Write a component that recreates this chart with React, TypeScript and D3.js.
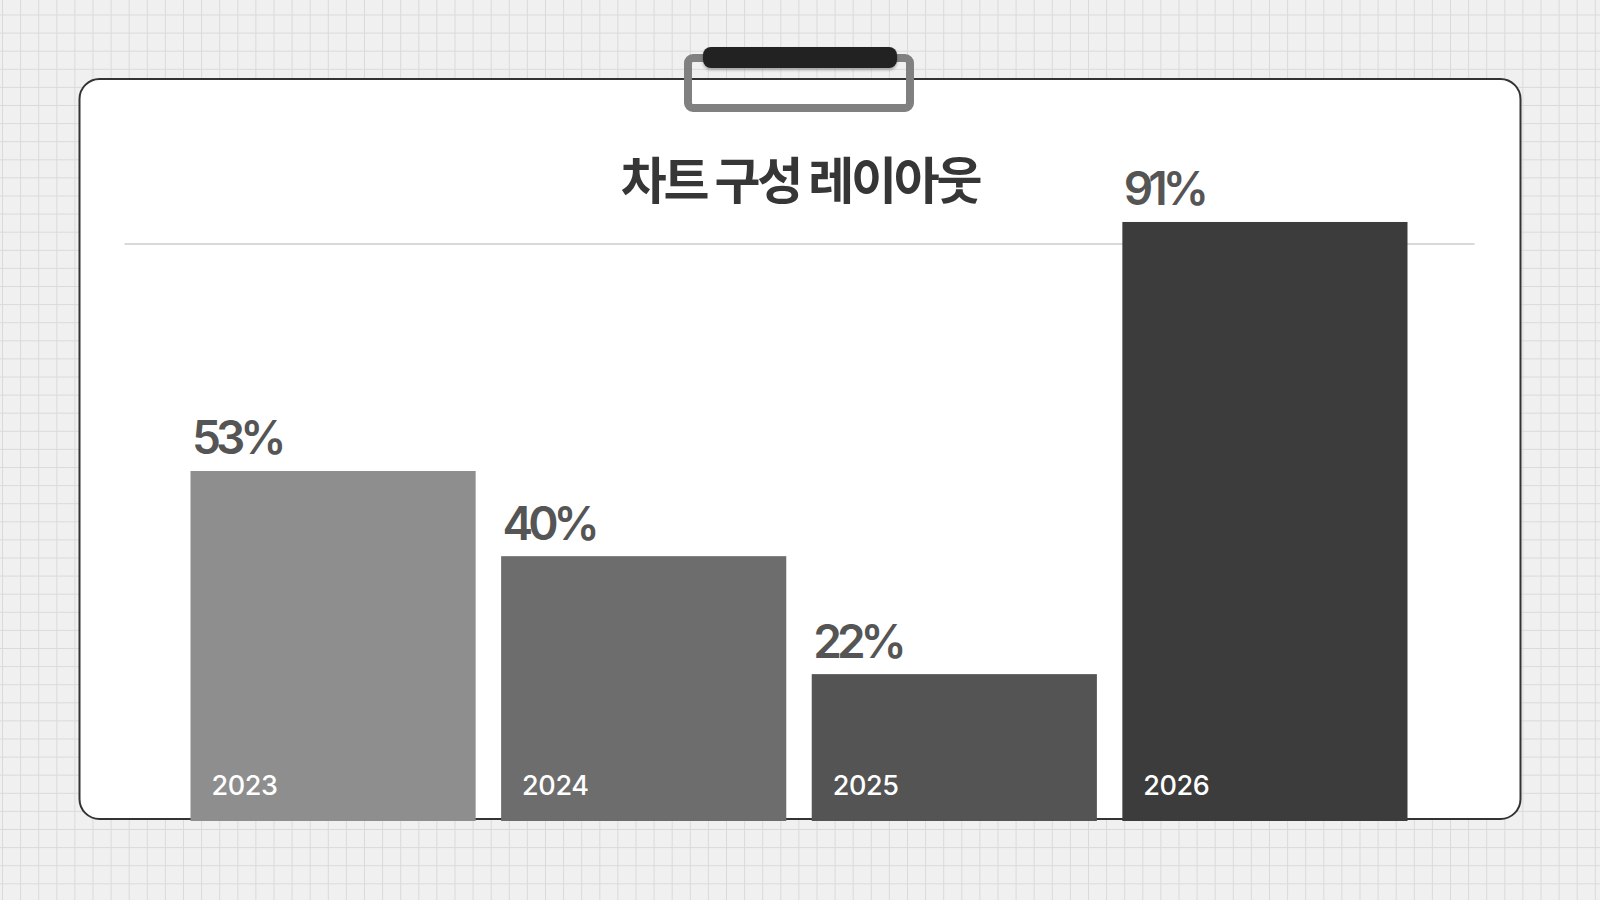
import React from "react";
import * as d3 from "d3";

const title = "차트 구성 레이아웃";
const years = ["2023", "2024", "2025", "2026"];
const values = [53, 40, 22, 91];
const barColors = ["#8e8e8e", "#6d6d6d", "#545454", "#3c3c3c"];

const W = 1600;
const H = 900;

export default function App() {
  const x = d3
    .scaleBand<string>()
    .domain(years)
    .range([190.5, 1407.5])
    .paddingInner(0.082)
    .paddingOuter(0);
  const y = d3.scaleLinear().domain([0, 100]).range([818.3, 163]);
  const barBottom = 821;

  const gridStep = 18.1;
  const vLines = d3.range(2.5, W, gridStep);
  const hLines = d3.range(15, H, gridStep);

  return (
    <svg
      width={W}
      height={H}
      viewBox={`0 0 ${W} ${H}`}
      style={{ position: "fixed", left: 0, top: 0, display: "block" }}
    >
      <defs>
        <filter id="clipShadow" x="-10%" y="-50%" width="120%" height="200%">
          <feDropShadow dx="0" dy="2" stdDeviation="1.5" floodColor="#000" floodOpacity="0.3" />
        </filter>
      </defs>
      <rect x={0} y={0} width={W} height={H} fill="#f0f0f0" />
      <g stroke="#dadada" strokeWidth={1}>
        {vLines.map((v, i) => (
          <line key={"v" + i} x1={v} x2={v} y1={0} y2={H} />
        ))}
        {hLines.map((v, i) => (
          <line key={"h" + i} x1={0} x2={W} y1={v} y2={v} />
        ))}
      </g>

      {/* card */}
      <rect x={79.5} y={79} width={1441} height={740} rx={20} ry={20} fill="#ffffff" stroke="#333333" strokeWidth={2} />

      {/* title */}
      <text
        x={800}
        y={199}
        textAnchor="middle"
        fontFamily="'Noto Sans CJK KR', 'Noto Sans', sans-serif"
        fontWeight={700}
        fontSize={50}
        letterSpacing={-3.2}
        fill="#363636"
      >
        {title}
      </text>

      {/* divider */}
      <line x1={124.5} x2={1474.5} y1={244} y2={244} stroke="#b4b4b4" strokeWidth={1.2} />

      {/* bars */}
      {years.map((yr, i) => {
        const bx = x(yr) as number;
        const top = y(values[i]);
        return (
          <g key={yr}>
            <rect x={bx} y={top} width={x.bandwidth()} height={barBottom - top} fill={barColors[i]} />
            <text
              x={bx + 1.5}
              y={top - 16.5}
              fontFamily="Inter, 'Noto Sans', sans-serif"
              fontWeight={600}
              fontSize={46}
              letterSpacing={-5}
              fill="#555555"
            >
              {values[i]}%
            </text>
            <text
              x={bx + 21}
              y={795}
              fontFamily="Inter, 'Noto Sans', sans-serif"
              fontWeight={500}
              fontSize={27}
              letterSpacing={-0.4}
              fill="#ffffff"
            >
              {yr}
            </text>
          </g>
        );
      })}

      {/* clip */}
      <rect x={688} y={58} width={222} height={50} rx={5} ry={5} fill="none" stroke="#808080" strokeWidth={8} />
      <rect x={703} y={47} width={194} height={21} rx={8} ry={8} fill="#222222" filter="url(#clipShadow)" />
    </svg>
  );
}
